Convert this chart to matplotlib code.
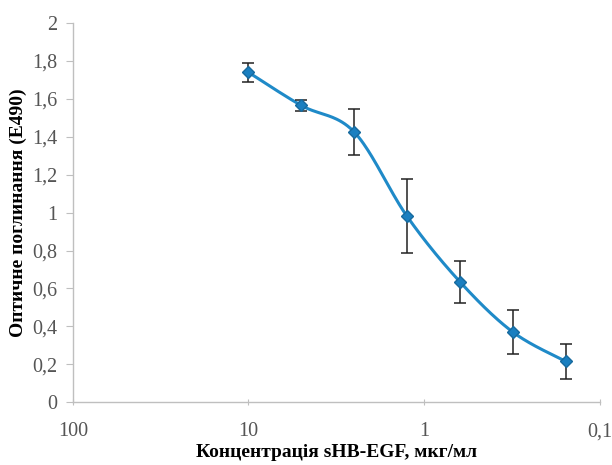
import numpy as np
import matplotlib.pyplot as plt

# дані
konc = [10, 5, 2.5, 1.25, 0.625, 0.3125, 0.156]
e490 = [1.74, 1.565, 1.425, 0.98, 0.635, 0.37, 0.215]
pohybka = [0.05, 0.03, 0.12, 0.195, 0.11, 0.115, 0.09]

y_ticks = [0, 0.2, 0.4, 0.6, 0.8, 1, 1.2, 1.4, 1.6, 1.8, 2]
y_labels = ['0', '0,2', '0,4', '0,6', '0,8', '1', '1,2', '1,4', '1,6', '1,8', '2']
x_ticks = [100, 10, 1, 0.1]
x_labels = ['100', '10', '1', '0,1']


def zgladzhena_liniia(xs, ys, n=40):
    # згладжування як в Excel (криві Безьє через точки), у лог-просторі по x
    lx = np.log10(xs)
    ys = np.asarray(ys, dtype=float)
    px, py = [], []
    t = np.linspace(0, 1, n)
    for i in range(len(lx) - 1):
        x0, y0 = lx[max(i - 1, 0)], ys[max(i - 1, 0)]
        x1, y1 = lx[i], ys[i]
        x2, y2 = lx[i + 1], ys[i + 1]
        x3, y3 = lx[min(i + 2, len(lx) - 1)], ys[min(i + 2, len(lx) - 1)]
        c1x, c1y = x1 + (x2 - x0) / 6, y1 + (y2 - y0) / 6
        c2x, c2y = x2 - (x3 - x1) / 6, y2 - (y3 - y1) / 6
        bx = (1 - t) ** 3 * x1 + 3 * (1 - t) ** 2 * t * c1x + 3 * (1 - t) * t ** 2 * c2x + t ** 3 * x2
        by = (1 - t) ** 3 * y1 + 3 * (1 - t) ** 2 * t * c1y + 3 * (1 - t) * t ** 2 * c2y + t ** 3 * y2
        px.extend(bx)
        py.extend(by)
    return 10 ** np.array(px), np.array(py)


plt.rcParams['font.family'] = ['Liberation Serif', 'DejaVu Serif']

fig = plt.figure(figsize=(6.12, 4.65), dpi=100)
ax = fig.add_axes([0.119, 0.135, 0.861, 0.8155])

lx, ly = zgladzhena_liniia(konc, e490)
ax.plot(lx, ly, color='#1f8ac8', lw=2.2, zorder=2)
ax.errorbar(konc, e490, yerr=pohybka, fmt='none', ecolor='#222222', elinewidth=1.1,
            capsize=4, capthick=1.1, zorder=3)
ax.plot(konc, e490, 'D', color='#1a7fc0', markeredgecolor='#176a9e', markersize=6.5, zorder=4)

ax.set_xscale('log')
ax.set_xlim(100, 0.1)
ax.set_ylim(0, 2)
ax.set_xticks(x_ticks)
ax.set_xticklabels(x_labels)
ax.xaxis.set_minor_locator(plt.NullLocator())
ax.set_yticks(y_ticks)
ax.set_yticklabels(y_labels)

for s in ['top', 'right']:
    ax.spines[s].set_visible(False)
for s in ['left', 'bottom']:
    ax.spines[s].set_color('#bfbfbf')
    ax.spines[s].set_linewidth(1.0)

ax.tick_params(axis='y', colors='#bfbfbf', labelcolor='#555555', labelsize=14.5, length=5, pad=6)
ax.tick_params(axis='x', colors='#bfbfbf', labelcolor='#555555', labelsize=14.5, length=5,
               direction='inout', pad=12)

ax.set_ylabel('Оптичне поглинання (E490)', fontsize=14, fontweight='bold', labelpad=4)
ax.set_xlabel('Концентрація sHB-EGF, мкг/мл', fontsize=14, fontweight='bold', labelpad=2)

fig.savefig('out.png', dpi=100)
